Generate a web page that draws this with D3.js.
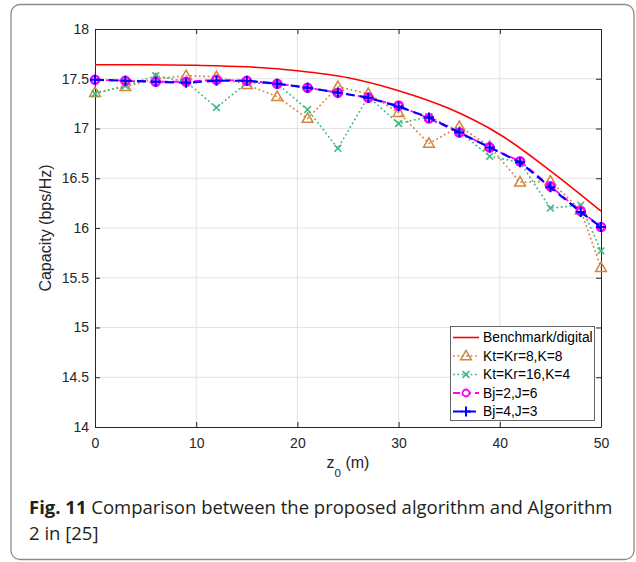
<!DOCTYPE html>
<html>
<head>
<meta charset="utf-8">
<script src="https://cdn.jsdelivr.net/npm/d3@7"></script>
<style>
  html, body { margin: 0; padding: 0; background: #fff; }
  svg { display: block; }
</style>
</head>
<body>
<svg id="chart" width="636" height="562"></svg>
<script>
// Distance z0 (m) at which each scheme was evaluated
const zPos = [0, 3, 6, 9, 12, 15, 18, 21, 24, 27, 30, 33, 36, 39, 42, 45, 48, 50];

// Benchmark / fully digital capacity curve
const benchZ   = [0, 5, 10, 15, 20, 25, 30, 35, 40, 45, 50];
const benchCap = [17.64, 17.64, 17.635, 17.62, 17.58, 17.51, 17.38, 17.20, 16.94, 16.575, 16.17];

// Algorithm 2 in [25]
const capKt8  = [17.36, 17.42, 17.50, 17.53, 17.52, 17.44, 17.32, 17.10, 17.42, 17.35, 17.16, 16.85, 17.02, 16.82, 16.46, 16.47, 16.18, 15.60];
const capKt16 = [17.35, 17.43, 17.53, 17.47, 17.21, 17.46, 17.45, 17.19, 16.80, 17.32, 17.05, 17.12, 16.97, 16.72, 16.66, 16.20, 16.23, 15.77];

// Proposed algorithm
const capBj2 = [17.49, 17.48, 17.47, 17.47, 17.49, 17.48, 17.45, 17.41, 17.36, 17.31, 17.23, 17.10, 16.96, 16.81, 16.67, 16.42, 16.17, 16.01];
const capBj4 = [17.49, 17.48, 17.47, 17.46, 17.48, 17.48, 17.45, 17.41, 17.36, 17.31, 17.22, 17.11, 16.96, 16.81, 16.66, 16.41, 16.16, 16.01];

const xTicks = [0, 10, 20, 30, 40, 50];
const yTicks = [14, 14.5, 15, 15.5, 16, 16.5, 17, 17.5, 18];
const legendLabels = ["Benchmark/digital", "Kt=Kr=8,K=8", "Kt=Kr=16,K=4", "Bj=2,J=6", "Bj=4,J=3"];

const svg = d3.select("#chart");
const FONT = "'Liberation Sans', Arial, Helvetica, sans-serif";

// card frame
svg.append("rect")
  .attr("x", 11).attr("y", 4.5).attr("width", 623).attr("height", 555)
  .attr("rx", 9).attr("ry", 9)
  .attr("fill", "#fff").attr("stroke", "#8a8a8a").attr("stroke-width", 1.3);

const plot = { left: 95, right: 601, top: 29, bottom: 427 };
const x = d3.scaleLinear().domain([0, 50]).range([plot.left, plot.right]);
const y = d3.scaleLinear().domain([14, 18]).range([plot.bottom, plot.top]);

// grid
const grid = svg.append("g").attr("stroke", "#e3e3e3").attr("stroke-width", 1);
grid.selectAll(".gx").data(xTicks.slice(1, -1)).join("line")
  .attr("x1", d => x(d)).attr("x2", d => x(d))
  .attr("y1", plot.top).attr("y2", plot.bottom);
grid.selectAll(".gy").data(yTicks.slice(1, -1)).join("line")
  .attr("y1", d => y(d)).attr("y2", d => y(d))
  .attr("x1", plot.left).attr("x2", plot.right);

// axes with inward ticks, MATLAB box style
const fmt = d => String(d);
const axisStyle = g => {
  g.select(".domain").attr("stroke", "#262626").attr("stroke-width", 1);
  g.selectAll(".tick line").attr("stroke", "#262626").attr("stroke-width", 1);
  g.selectAll(".tick text").attr("font-family", FONT).attr("font-size", 14).attr("fill", "#262626");
};
svg.append("g").attr("transform", `translate(0,${plot.bottom})`)
  .call(d3.axisBottom(x).tickValues(xTicks).tickFormat(fmt).tickSizeInner(-5).tickSizeOuter(0).tickPadding(11))
  .call(axisStyle);
svg.append("g").attr("transform", `translate(${plot.left},0)`)
  .call(d3.axisLeft(y).tickValues(yTicks).tickFormat(fmt).tickSizeInner(-5).tickSizeOuter(0).tickPadding(6))
  .call(axisStyle);
svg.append("g").attr("transform", `translate(0,${plot.top})`)
  .call(d3.axisTop(x).tickValues(xTicks).tickFormat("").tickSizeInner(-5).tickSizeOuter(0))
  .call(axisStyle);
svg.append("g").attr("transform", `translate(${plot.right},0)`)
  .call(d3.axisRight(y).tickValues(yTicks).tickFormat("").tickSizeInner(-5).tickSizeOuter(0))
  .call(axisStyle);

// axis titles
svg.append("text")
  .attr("transform", `translate(51,${(plot.top + plot.bottom) / 2}) rotate(-90)`)
  .attr("text-anchor", "middle")
  .attr("font-family", FONT).attr("font-size", 16).attr("fill", "#262626")
  .text("Capacity (bps/Hz)");
const xt = svg.append("text")
  .attr("x", (plot.left + plot.right) / 2).attr("y", 468)
  .attr("text-anchor", "middle")
  .attr("font-family", FONT).attr("font-size", 16).attr("fill", "#262626");
xt.append("tspan").text("z");
xt.append("tspan").attr("dy", 9).attr("font-size", 11.5).text("0");
xt.append("tspan").attr("dy", -9).text(" (m)");

// series definitions
const series = [
  { label: legendLabels[0], xs: benchZ, ys: benchCap, color: "#ff0000", width: 1.6, dash: null, marker: null, curve: d3.curveCatmullRom },
  { label: legendLabels[1], xs: zPos, ys: capKt8,  color: "#d4843c", width: 1.6, dash: "1.8,2.6", marker: "triangle", curve: d3.curveLinear },
  { label: legendLabels[2], xs: zPos, ys: capKt16, color: "#3db882", width: 1.6, dash: "1.8,2.6", marker: "x", curve: d3.curveLinear },
  { label: legendLabels[3], xs: zPos, ys: capBj2,  color: "#ff00ff", width: 1.8, dash: "7,4", marker: "circle", curve: d3.curveLinear },
  { label: legendLabels[4], xs: zPos, ys: capBj4,  color: "#0000ff", width: 2.2, dash: "9,5", marker: "plus", curve: d3.curveLinear }
];

function drawMarker(g, type, color) {
  if (type === "triangle") {
    g.append("path").attr("d", "M0,-5.6 L5.4,3.8 L-5.4,3.8 Z")
      .attr("fill", "none").attr("stroke", color).attr("stroke-width", 1.5);
  } else if (type === "x") {
    g.append("path").attr("d", "M-3.4,-3.4 L3.4,3.4 M-3.4,3.4 L3.4,-3.4")
      .attr("fill", "none").attr("stroke", color).attr("stroke-width", 1.6);
  } else if (type === "circle") {
    g.append("circle").attr("r", 4)
      .attr("fill", "none").attr("stroke", color).attr("stroke-width", 2.6);
  } else if (type === "plus") {
    g.append("path").attr("d", "M-5,0 L5,0 M0,-5 L0,5")
      .attr("fill", "none").attr("stroke", color).attr("stroke-width", 2);
  }
}

const clip = svg.append("defs").append("clipPath").attr("id", "plotClip");
clip.append("rect").attr("x", plot.left - 8).attr("y", plot.top).attr("width", plot.right - plot.left + 16).attr("height", plot.bottom - plot.top);

const marks = svg.append("g").attr("clip-path", "url(#plotClip)");
series.forEach(s => {
  const pts = s.xs.map((v, i) => [v, s.ys[i]]);
  const line = d3.line().x(d => x(d[0])).y(d => y(d[1])).curve(s.curve);
  marks.append("path").datum(pts)
    .attr("d", line)
    .attr("fill", "none")
    .attr("stroke", s.color)
    .attr("stroke-width", s.width)
    .attr("stroke-dasharray", s.dash);
  if (s.marker) {
    pts.forEach(p => {
      const g = marks.append("g").attr("transform", `translate(${x(p[0])},${y(p[1])})`);
      drawMarker(g, s.marker, s.color);
    });
  }
});

// legend
const lg = svg.append("g");
lg.append("rect").attr("x", 450.5).attr("y", 326.5).attr("width", 144).attr("height", 94)
  .attr("fill", "#fff").attr("stroke", "#555").attr("stroke-width", 0.9);
const rowY = [337.5, 356, 374.5, 393, 411.5];
series.forEach((s, i) => {
  const r = lg.append("g");
  r.append("line").attr("x1", 453).attr("x2", 479).attr("y1", rowY[i]).attr("y2", rowY[i])
    .attr("stroke", s.color).attr("stroke-width", s.width).attr("stroke-dasharray", s.dash);
  if (s.marker) {
    const g = r.append("g").attr("transform", `translate(466,${rowY[i]})`);
    if (s.marker === "circle") {
      g.append("circle").attr("r", 3.5).attr("fill", "#fff").attr("stroke", s.color).attr("stroke-width", 1.8);
    } else {
      drawMarker(g, s.marker, s.color);
    }
  }
  r.append("text").attr("x", 483).attr("y", rowY[i]).attr("dy", "0.36em")
    .attr("font-family", FONT).attr("font-size", 13.8).attr("fill", "#000")
    .text(s.label);
});

// caption
const CAP_FONT = "'Open Sans', 'Noto Sans', sans-serif";
const cap1 = svg.append("text").attr("x", 29).attr("y", 514)
  .attr("font-family", CAP_FONT).attr("font-size", 16).attr("fill", "#231f20");
cap1.append("tspan").attr("font-weight", "bold").text("Fig. 11");
cap1.append("tspan").attr("font-weight", "normal").text(" Comparison between the proposed algorithm and Algorithm");
const cap2 = svg.append("text").attr("x", 29).attr("y", 540)
  .attr("font-family", CAP_FONT).attr("font-size", 16).attr("fill", "#231f20")
  .attr("font-weight", "normal")
  .text("2 in [25]");
// fit caption line to the card's text column
const w = cap1.node().getComputedTextLength();
const size = 16 * 584 / w;
cap1.attr("font-size", size);
cap2.attr("font-size", size);
</script>
</body>
</html>
